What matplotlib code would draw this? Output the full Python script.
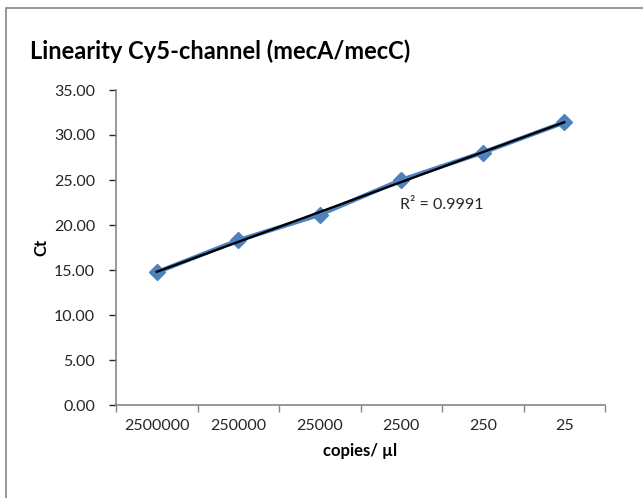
import numpy as np
import matplotlib
matplotlib.use("Agg")
import matplotlib.pyplot as plt
from matplotlib.patches import Rectangle

# Cy5 channel linearity data
copies = ["2500000", "250000", "25000", "2500", "250", "25"]
ct_values = [14.75, 18.3, 21.15, 25.0, 28.05, 31.4]
r2_label = "R² = 0.9991"

plt.rcParams['font.family'] = ['Lato', 'DejaVu Sans']

fig = plt.figure(figsize=(6.43, 4.98), dpi=100)
# outer chart border (runs off right/bottom edge like the original crop)
fig.patches.append(Rectangle((6 / 643, -0.1), 1.2, (498 - 8) / 498 + 0.1,
                             transform=fig.transFigure, fill=False,
                             edgecolor='#868686', linewidth=1.2))

ax = fig.add_axes([116 / 643, 1 - 405 / 498, (605 - 116) / 643, (405 - 90) / 498])

x = np.arange(len(copies))
ax.plot(x, ct_values, color='#4F81BD', linewidth=3.2, marker='D',
        markersize=8.5, markerfacecolor='#4F81BD', markeredgecolor='#4F81BD', zorder=2)

# linear trendline
slope, intercept = np.polyfit(x, ct_values, 1)
ax.plot(x, slope * x + intercept, color='black', linewidth=1.7, zorder=3)
ax.text(2.98, 22.2, r2_label, fontsize=11.5, va='center', ha='left', color='#262626')

ax.set_xlim(-0.5, 5.5)
ax.set_ylim(0, 35)
ax.set_yticks(np.arange(0, 36, 5))
ax.set_yticklabels([f"{v:.2f}" for v in np.arange(0, 36, 5)], fontsize=11.5)
ax.set_xticks(x)
ax.set_xticklabels(copies, fontsize=11.5)
ax.set_xticks(np.arange(-0.5, 6, 1), minor=True)
ax.tick_params(axis='x', which='major', length=0, pad=10)
ax.tick_params(axis='x', which='minor', length=5, color='#868686', width=1)
ax.tick_params(axis='y', length=5, color='#868686', width=1, pad=10)
ax.tick_params(colors='#262626', which='major')

for s in ['top', 'right']:
    ax.spines[s].set_visible(False)
for s in ['left', 'bottom']:
    ax.spines[s].set_color('#868686')
    ax.spines[s].set_linewidth(1.2)

ax.set_xlabel("copies/ µl", fontsize=12, fontweight='bold', labelpad=7)
ax.set_ylabel("Ct", fontsize=12, fontweight='bold', labelpad=3)
fig.text(30 / 643, 1 - 59 / 498, "Linearity Cy5-channel (mecA/mecC)",
         fontsize=17, fontweight='bold', ha='left', va='baseline')

fig.savefig("out.png", dpi=100)
